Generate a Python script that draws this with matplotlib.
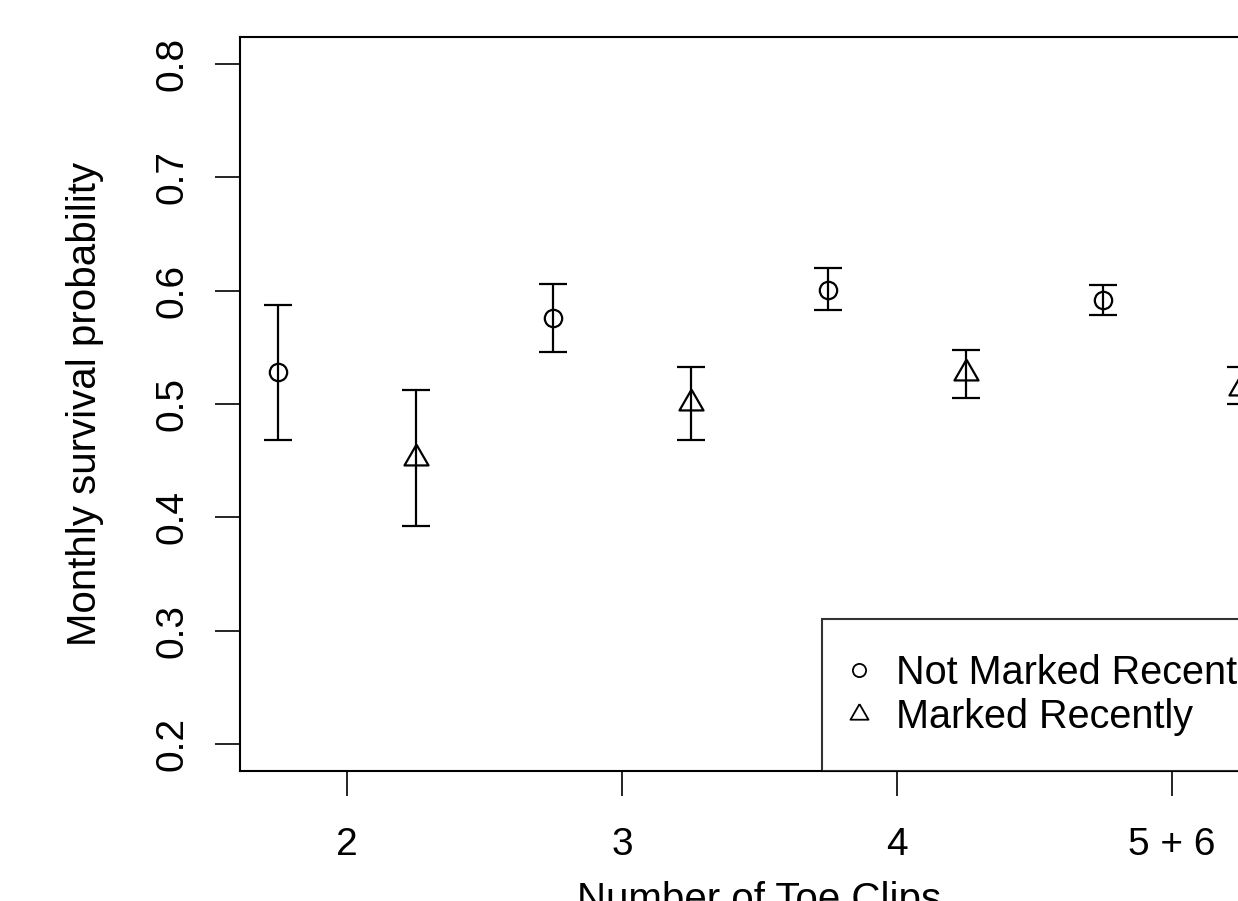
import matplotlib.pyplot as plt
from matplotlib.lines import Line2D

plt.rcParams['font.family'] = ['Liberation Sans', 'DejaVu Sans']

# toe-clip groups and survival estimates
group_labels = ['2', '3', '4', '5 + 6']
group_pos = [2, 3, 4, 5]

not_recent_x = [1.75, 2.75, 3.75, 4.75]
not_recent_y = [0.528, 0.576, 0.601, 0.592]
not_recent_lo = [0.468, 0.546, 0.583, 0.579]
not_recent_hi = [0.587, 0.606, 0.620, 0.605]

recent_x = [2.25, 3.25, 4.25, 5.25]
recent_y = [0.452, 0.501, 0.527, 0.514]
recent_lo = [0.392, 0.468, 0.505, 0.500]
recent_hi = [0.512, 0.533, 0.548, 0.533]

# equilateral triangle centred on its centroid (like R's pch = 2)
tri = [(0, 1), (-0.866, -0.5), (0.866, -0.5), (0, 1)]

fig = plt.figure(figsize=(12.38, 9.01), dpi=100)
ax = fig.add_axes([240 / 1238, 130 / 901, 1039 / 1238, 734 / 901])

lw = 1.6
for xs, ys, lo, hi, mk, ms in [(not_recent_x, not_recent_y, not_recent_lo, not_recent_hi, 'o', 12.5),
                               (recent_x, recent_y, recent_lo, recent_hi, tri, 20)]:
    err = [[y - l for y, l in zip(ys, lo)], [h - y for y, h in zip(ys, hi)]]
    ax.errorbar(xs, ys, yerr=err, fmt='none', ecolor='black', elinewidth=lw,
                capsize=10, capthick=lw, zorder=2)
    ax.plot(xs, ys, linestyle='none', marker=mk, markersize=ms, markerfacecolor='none',
            markeredgecolor='black', markeredgewidth=lw, zorder=3)

ax.set_xlim(1.61, 5.39)
ax.set_ylim(0.176, 0.824)
ax.set_xticks(group_pos)
ax.set_xticklabels(group_labels)
ax.set_yticks([0.2, 0.3, 0.4, 0.5, 0.6, 0.7, 0.8])
ax.set_yticklabels(['0.2', '0.3', '0.4', '0.5', '0.6', '0.7', '0.8'], rotation=90, va='center')
ax.tick_params(axis='both', length=18, width=1.2, labelsize=28, direction='out')
ax.tick_params(axis='x', pad=22)
ax.tick_params(axis='y', pad=18)
for s in ax.spines.values():
    s.set_linewidth(1.5)

ax.set_xlabel('Number of Toe Clips', fontsize=29, labelpad=13)
ax.set_ylabel('Monthly survival probability', fontsize=29, labelpad=36)

handles = [Line2D([], [], linestyle='none', marker='o', markersize=9.5, markerfacecolor='none',
                  markeredgecolor='black', markeredgewidth=1.3),
           Line2D([], [], linestyle='none', marker=tri, markersize=15, markerfacecolor='none',
                  markeredgecolor='black', markeredgewidth=1.3)]
leg = ax.legend(handles, ['Not Marked Recently', 'Marked Recently'], loc='lower left',
                bbox_to_anchor=((822 - 240) / 1039, 0), fontsize=28.5, frameon=True,
                fancybox=False, borderaxespad=0, borderpad=0.88, handlelength=0.1,
                handletextpad=0.9, labelspacing=0.15)
leg.get_frame().set_edgecolor('black')
leg.get_frame().set_linewidth(1.5)

fig.savefig('out.png', dpi=100)
